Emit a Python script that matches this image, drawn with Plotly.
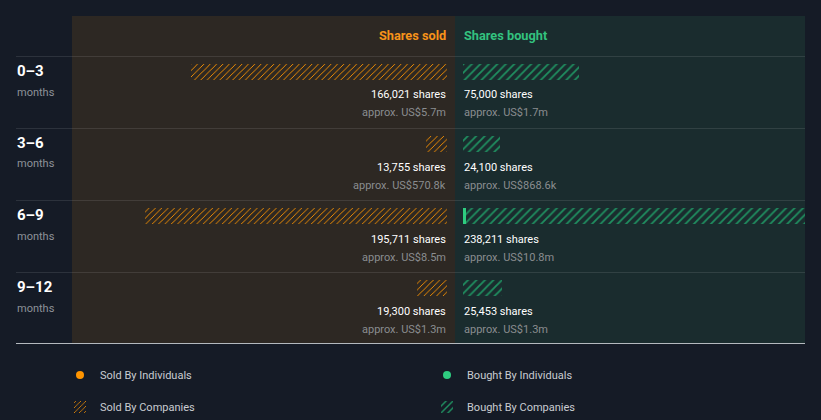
import plotly.graph_objects as go

W, H = 821, 420

periods = ["0–3", "3–6", "6–9", "9–12"]
period_unit = "months"

sold_total = [166021, 13755, 195711, 19300]
sold_individuals = [0, 0, 0, 0]
sold_value = ["US$5.7m", "US$570.8k", "US$8.5m", "US$1.3m"]

bought_total = [75000, 24100, 238211, 25453]
bought_individuals = [0, 0, 2200, 0]
bought_value = ["US$1.7m", "US$868.6k", "US$10.8m", "US$1.3m"]

sold_companies = [t - i for t, i in zip(sold_total, sold_individuals)]
bought_companies = [t - i for t, i in zip(bought_total, bought_individuals)]

BG = "#151b26"
SOLD_BG = "#2d2823"
BOUGHT_BG = "#1a2c2e"
ORANGE = "#ff9500"
ORANGE_TXT = "#f7931a"
GREEN = "#2ecc80"
GREEN_HATCH = "#1f8f60"
GREEN_TXT = "#33c27f"
FONT = "Roboto"


def px(x):
    return x / W


def py(y):
    return 1 - y / H


# scale: pixels per share
k = 256 / 166021
row_h = 72
top = 56
bottom = top + 4 * row_h
bar_off = 16  # bar centre below row top
y_lo = -bar_off / row_h
y_hi = y_lo + 4
bar_w = 16 / row_h

fig = go.Figure()

fig.add_trace(go.Bar(
    y=periods, x=sold_individuals, orientation="h", xaxis="x", yaxis="y",
    marker=dict(color=ORANGE, line=dict(width=0)), width=bar_w,
    showlegend=False, hoverinfo="skip"))
fig.add_trace(go.Bar(
    y=periods, x=sold_companies, orientation="h", xaxis="x", yaxis="y",
    marker=dict(color="rgba(0,0,0,0)", line=dict(width=0),
                pattern=dict(shape="/", fgcolor=ORANGE, bgcolor="rgba(0,0,0,0)",
                             size=4.5, solidity=0.2, fillmode="replace")),
    width=bar_w, name="Sold By Companies", legend="legend2", hoverinfo="skip"))
fig.add_trace(go.Bar(
    y=periods, x=bought_individuals, orientation="h", xaxis="x2", yaxis="y",
    marker=dict(color=GREEN, line=dict(width=0)), width=bar_w,
    showlegend=False, hoverinfo="skip"))
fig.add_trace(go.Bar(
    y=periods, x=bought_companies, orientation="h", xaxis="x2", yaxis="y",
    marker=dict(color="rgba(0,0,0,0)", line=dict(width=0),
                pattern=dict(shape="/", fgcolor=GREEN_HATCH, bgcolor="rgba(0,0,0,0)",
                             size=6, solidity=0.3, fillmode="replace")),
    width=bar_w, name="Bought By Companies", legend="legend2", hoverinfo="skip"))

fig.add_trace(go.Scatter(x=[None], y=[None], mode="markers", xaxis="x", yaxis="y",
                         marker=dict(symbol="circle", size=8, color=ORANGE),
                         name="Sold By Individuals", legend="legend"))
fig.add_trace(go.Scatter(x=[None], y=[None], mode="markers", xaxis="x2", yaxis="y",
                         marker=dict(symbol="circle", size=8, color=GREEN),
                         name="Bought By Individuals", legend="legend"))

shapes = [
    dict(type="rect", xref="paper", yref="paper", x0=px(72), x1=px(455), y0=py(16), y1=py(343),
         fillcolor=SOLD_BG, line=dict(width=0), layer="below"),
    dict(type="rect", xref="paper", yref="paper", x0=px(455), x1=px(805), y0=py(16), y1=py(343),
         fillcolor=BOUGHT_BG, line=dict(width=0), layer="below"),
]
for i in range(4):
    yy = top + i * row_h + 0.5
    shapes.append(dict(type="line", xref="paper", yref="paper", x0=px(16), x1=px(805),
                       y0=py(yy), y1=py(yy),
                       line=dict(color="rgba(255,255,255,0.1)", width=1), layer="below"))
shapes.append(dict(type="line", xref="paper", yref="paper", x0=px(16), x1=px(805),
                   y0=py(343.5), y1=py(343.5), line=dict(color="#b4b9be", width=1), layer="below"))

annotations = [
    dict(text="<b>Shares sold</b>", xref="paper", yref="paper", x=px(448), y=py(35),
         xanchor="right", yanchor="middle", showarrow=False,
         font=dict(family=FONT, size=12.75, color=ORANGE_TXT)),
    dict(text="<b>Shares bought</b>", xref="paper", yref="paper", x=px(462), y=py(35),
         xanchor="left", yanchor="middle", showarrow=False,
         font=dict(family=FONT, size=12.75, color=GREEN_TXT)),
]
for i, p in enumerate(periods):
    rt = top + i * row_h
    annotations.append(dict(text=f"<b>{p}</b>", xref="paper", yref="paper", x=px(15), y=py(rt + 15),
                            xanchor="left", yanchor="middle", showarrow=False,
                            font=dict(family=FONT, size=15, color="#ffffff")))
    annotations.append(dict(text=period_unit, xref="paper", yref="paper", x=px(15), y=py(rt + 36),
                            xanchor="left", yanchor="middle", showarrow=False,
                            font=dict(family=FONT, size=11, color="#8d9299")))
    annotations.append(dict(text=f"{sold_total[i]:,} shares", xref="x", yref="y", x=0, y=p,
                            xanchor="right", yanchor="middle", yshift=-23, xshift=1, showarrow=False,
                            font=dict(family=FONT, size=11, color="#ffffff")))
    annotations.append(dict(text=f"approx. {sold_value[i]}", xref="x", yref="y", x=0, y=p,
                            xanchor="right", yanchor="middle", yshift=-41, xshift=1, showarrow=False,
                            font=dict(family=FONT, size=11, color="#8a8d90")))
    annotations.append(dict(text=f"{bought_total[i]:,} shares", xref="x2", yref="y", x=0, y=p,
                            xanchor="left", yanchor="middle", yshift=-23, xshift=-1, showarrow=False,
                            font=dict(family=FONT, size=11, color="#ffffff")))
    annotations.append(dict(text=f"approx. {bought_value[i]}", xref="x2", yref="y", x=0, y=p,
                            xanchor="left", yanchor="middle", yshift=-41, xshift=-1, showarrow=False,
                            font=dict(family=FONT, size=11, color="#8a8d90")))

legend_common = dict(orientation="h", xanchor="left", yanchor="middle",
                     xref="container", yref="container",
                     entrywidth=322, entrywidthmode="pixels", bgcolor="rgba(0,0,0,0)",
                     font=dict(family=FONT, size=11, color="#c9ccd1"), traceorder="normal",
                     itemclick=False, itemdoubleclick=False)

fig.update_layout(
    width=W, height=H,
    margin=dict(l=0, r=0, t=0, b=0, autoexpand=False),
    paper_bgcolor=BG, plot_bgcolor="rgba(0,0,0,0)",
    barmode="stack", bargap=0,
    font=dict(family=FONT, size=11, color="#c9ccd1"),
    xaxis=dict(domain=[px(72), px(447)], range=[375 / k, 0], visible=False, fixedrange=True),
    xaxis2=dict(domain=[px(463), px(805)], range=[0, 342 / k], visible=False,
                anchor="y", fixedrange=True),
    yaxis=dict(domain=[py(bottom), py(top)], range=[y_hi, y_lo], type="category",
               categoryorder="array", categoryarray=periods, visible=False, fixedrange=True),
    shapes=shapes,
    annotations=annotations,
    legend=dict(x=px(60), y=py(375), **legend_common),
    legend2=dict(x=px(60), y=py(407), **legend_common),
    showlegend=True,
)

fig.write_html("out.html", config={"displayModeBar": False},
               post_script="document.body.style.margin='0';")
